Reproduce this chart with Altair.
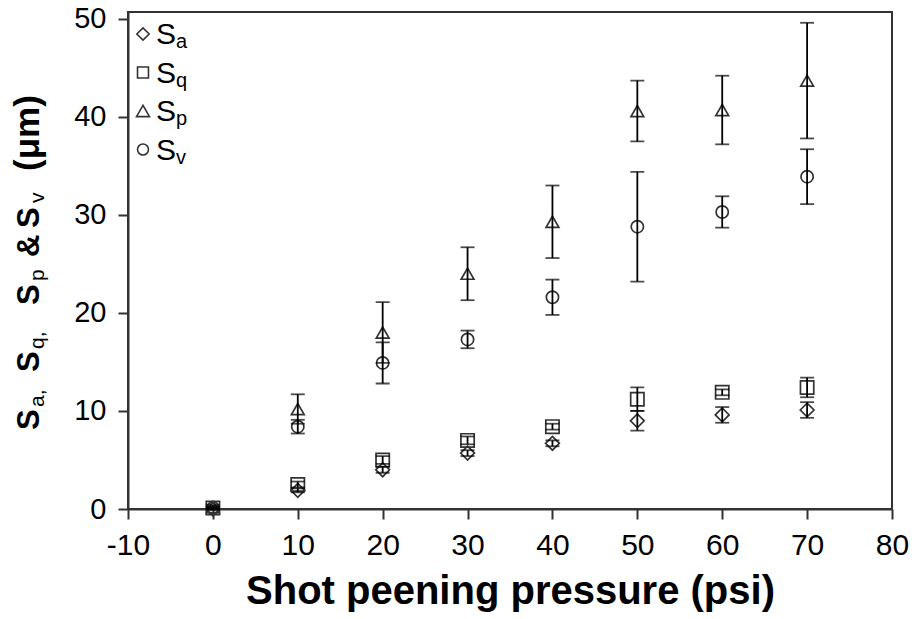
import altair as alt
import pandas as pd

# ---------------- data ----------------
pressure = [0, 10, 20, 30, 40, 50, 60, 70]
series_names = ["Sa", "Sq", "Sp", "Sv"]
sa = [0.0, 1.9, 4.0, 5.7, 6.7, 9.0, 9.6, 10.1]
sa_err = [0.1, 0.2, 0.3, 0.3, 0.3, 1.0, 0.8, 0.8]
sq = [0.1, 2.5, 5.0, 7.0, 8.4, 11.2, 11.9, 12.4]
sq_err = [0.1, 0.3, 0.4, 0.4, 0.3, 1.2, 0.3, 1.0]
sp = [0.2, 10.2, 18.0, 24.0, 29.3, 40.6, 40.7, 43.7]
sp_err = [0.2, 1.5, 3.1, 2.7, 3.7, 3.1, 3.5, 5.9]
sv = [0.1, 8.4, 14.9, 17.3, 21.6, 28.8, 30.3, 33.9]
sv_err = [0.1, 0.7, 2.1, 0.9, 1.8, 5.6, 1.6, 2.8]
x_ticks = [-10, 0, 10, 20, 30, 40, 50, 60, 70, 80]
y_ticks = [0, 10, 20, 30, 40, 50]
subscripts = ["a", "q", "p", "v"]

shapes = ["diamond", "square", "triangle-up", "circle"]
sizes = [190, 150, 210, 150]

rows = []
for name, vals, errs in zip(series_names, [sa, sq, sp, sv], [sa_err, sq_err, sp_err, sv_err]):
    for xv, v, e in zip(pressure, vals, errs):
        rows.append({"series": name, "x": xv, "v": v, "lo": v - e, "hi": v + e})
df = pd.DataFrame(rows)

# ---------------- layout ----------------
X0, Y0 = 128, 12          # plot-area origin in the page
W, H = 764, 497
MARK = "#333333"
FONT = "Liberation Sans, Arial, sans-serif"

xscale = alt.Scale(domain=[-10, 80], nice=False, zero=False)
yscale = alt.Scale(domain=[0, 50.7], nice=False, zero=False)

x_axis = alt.Axis(values=x_ticks, labelExpr="'' + datum.value", labelFont=FONT, labelFontSize=30,
                  labelPadding=11, labelFlush=False, labelOverlap=False,
                  title="Shot peening pressure (psi)", titleFont=FONT,
                  titleFontSize=40, titleFontWeight="bold", titlePadding=11, titleColor="#000")
y_axis = alt.Axis(values=y_ticks, labelFont=FONT, labelFontSize=29,
                  labelPadding=12, labelFlush=False, labelOverlap=False, title=None)

base = alt.Chart(df)

points = base.mark_point(filled=False, strokeWidth=1.7, opacity=1).encode(
    x=alt.X("x:Q", scale=xscale, axis=x_axis),
    y=alt.Y("v:Q", scale=yscale, axis=y_axis),
    shape=alt.Shape("series:N", scale=alt.Scale(domain=series_names, range=shapes), legend=None),
    size=alt.Size("series:O", scale=alt.Scale(domain=series_names, range=sizes), legend=None),
    color=alt.value(MARK),
)

rules = base.mark_rule(color="#000", strokeWidth=1.8).encode(
    x=alt.X("x:Q", scale=xscale), y=alt.Y("lo:Q", scale=yscale), y2="hi:Q"
)
cap_hi = base.mark_tick(orient="horizontal", size=14, thickness=1.8, color="#000").encode(
    x=alt.X("x:Q", scale=xscale), y=alt.Y("hi:Q", scale=yscale)
)
cap_lo = base.mark_tick(orient="horizontal", size=14, thickness=1.8, color="#000").encode(
    x=alt.X("x:Q", scale=xscale), y=alt.Y("lo:Q", scale=yscale)
)

one = pd.DataFrame({"k": [0]})

# ---------------- manual legend (symbol + S + subscript) ----------------
legend_layers = []
leg_y = [34, 72.5, 111, 149.5]
for i, (shape, sub) in enumerate(zip(shapes, subscripts)):
    cy = leg_y[i] - Y0
    legend_layers.append(
        alt.Chart(one).mark_point(shape=shape, filled=False, strokeWidth=1.6, color=MARK,
                                  size=sizes[i] * 0.8, opacity=1)
        .encode(x=alt.value(143 - X0), y=alt.value(cy))
    )
    legend_layers.append(
        alt.Chart(one).mark_text(text="S", font=FONT, fontSize=30, align="left",
                                 baseline="alphabetic", color="#000")
        .encode(x=alt.value(156 - X0), y=alt.value(cy + 10))
    )
    legend_layers.append(
        alt.Chart(one).mark_text(text=sub, font=FONT, fontSize=20, align="left",
                                 baseline="alphabetic", color="#000")
        .encode(x=alt.value(176 - X0), y=alt.value(cy + 14))
    )

# ---------------- y-axis title with subscripts ----------------
# (text, start position along the page height, bold?, font size)
ytitle_parts = [
    ("S", 430, True, 31), ("a,", 407, False, 21), ("S", 372, True, 31), ("q,", 349, False, 21),
    ("S", 305, True, 31), ("p", 281, False, 21), ("&", 257, True, 31), ("S", 228, True, 31),
    ("v", 203, False, 21), ("(μm)", 171, True, 35),
]
ytitle_layers = []
for txt, ypos, bold, fs in ytitle_parts:
    ytitle_layers.append(
        alt.Chart(one).mark_text(
            text=txt, font=FONT, fontSize=fs,
            fontWeight="bold" if bold else "normal", angle=270, align="left",
            baseline="alphabetic", color="#000")
        .encode(x=alt.value((39 if bold else 44) - X0), y=alt.value(ypos - Y0))
    )

chart = alt.layer(points, rules, cap_hi, cap_lo, *legend_layers, *ytitle_layers).properties(
    width=W, height=H,
    padding={"left": X0, "top": Y0, "right": 912 - X0 - W, "bottom": 619 - Y0 - H},
    autosize=alt.AutoSizeParams(type="none"),
).configure_view(stroke="#333", strokeWidth=2).configure_axis(
    grid=False, domainColor="#333", domainWidth=2, tickColor="#333", tickWidth=2,
    tickSize=10, labelColor="#000"
)

chart.save("out.html", embed_options={"renderer": "svg", "actions": False})
